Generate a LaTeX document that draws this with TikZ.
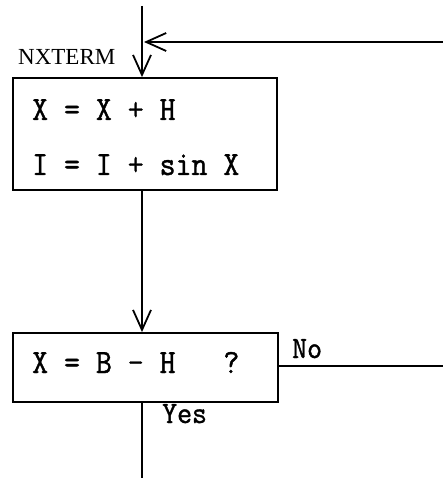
\documentclass[tikz,border=0pt]{standalone}
\usepackage{fontspec}
\newfontfamily\twbig{Latin Modern Mono}[FakeBold=1.2,FakeStretch=0.91]
\newfontfamily\twsmall{Latin Modern Mono}[FakeBold=1.2,FakeStretch=0.935]
\newfontfamily\nxfont{Liberation Serif}
\usetikzlibrary{arrows.meta}
\begin{document}
\begin{tikzpicture}[x=1pt,y=-1pt,
  ln/.style={line width=1.8pt},
  vtip/.style={-{Straight Barb[length=20pt,width=18pt,line width=1.8pt]}},
  box/.style={draw,line width=1.8pt,rectangle,inner sep=0pt},
  mono/.style={font=\twbig\fontsize{34}{40}\selectfont,inner sep=0pt,anchor=base west},
  small/.style={font=\twsmall\fontsize{31}{36}\selectfont,inner sep=0pt,anchor=base west},
  nxlabel/.style={font=\nxfont\fontsize{23}{27}\selectfont,inner sep=0pt,anchor=base west}]
\useasboundingbox (0,0) rectangle (443,478);
% boxes
\node[box,minimum width=264pt,minimum height=112pt] (box1) at (145,134) {};
\node[box,minimum width=265pt,minimum height=69pt] (box2) at (145.5,367.5) {};
% texts
\node[mono] (t1) at (32,120) {X = X + H};
\node[mono] (t2) at (32,175) {I = I + sin X};
\node[mono] (t3) at (32,373) {X = B - H\ \ \ ?};
\node[nxlabel] (nx) at (18,65) {NXTERM};
\node[small] (no) at (292,358) {No};
\node[small] (yes) at (162,423) {Yes};
% coordinates
\coordinate (top) at (142,6);
\coordinate (fbin) at (443,42);
\coordinate (noout) at (443,366);
\coordinate (bot) at (142,478);
% connectors
\draw[ln,line width=2.4pt] (top) -- (top |- fbin);
\draw[ln,vtip] (top |- fbin) -- (top |- box1.north);
\draw[ln,vtip] (fbin) -- ([xshift=2pt]top |- fbin);
\draw[ln,vtip] (top |- box1.south) -- (top |- box2.north);
\draw[ln] (box2.east |- noout) -- (noout);
\draw[ln] (top |- box2.south) -- (bot);
\end{tikzpicture}
\end{document}
